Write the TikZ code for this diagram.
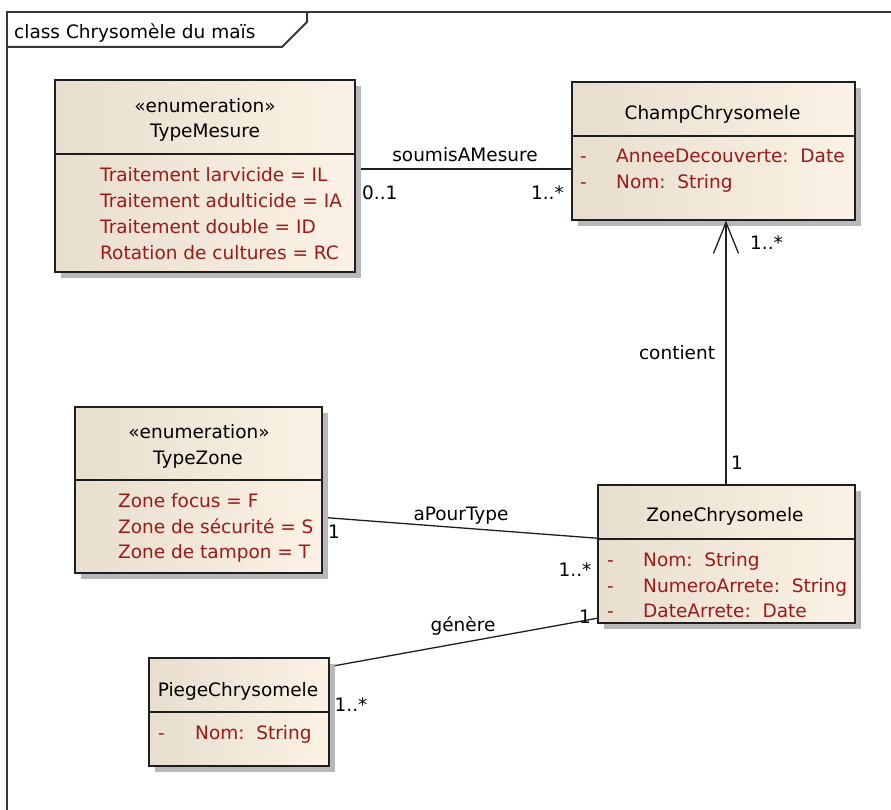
\documentclass[tikz,border=0pt]{standalone}
\usepackage{fontspec}
\setmainfont{DejaVu Sans}
\usetikzlibrary{shadows,arrows.meta,calc}
\definecolor{hdl}{RGB}{232,222,206}
\definecolor{hdr}{RGB}{251,242,229}
\definecolor{attr}{RGB}{155,25,25}
\definecolor{edgec}{RGB}{30,30,30}
\definecolor{framec}{RGB}{55,55,55}
\begin{document}
\begin{tikzpicture}[x=1pt,y=-1pt,
  every node/.style={font=\fontsize{18.5pt}{22pt}\selectfont, inner sep=0pt},
  classbox/.style={draw=edgec, line width=1.4pt, left color=hdl, right color=hdr,
    drop shadow={shadow xshift=6pt, shadow yshift=-6pt, fill=black!28, opacity=1}},
  divider/.style={draw=edgec, line width=1.4pt},
  txt/.style={text height=13.5pt, text depth=0pt},
  attrtxt/.style={txt, text=attr, anchor=west},
  lbl/.style={txt, text=black},
  conn/.style={draw=edgec, line width=1.3pt},
  conlbl/.style={txt, fill=white, inner sep=2pt},
  framestyle/.style={draw=framec, line width=2pt}
]
\useasboundingbox (0,0) rectangle (891,810);

% frame
\draw[framestyle] (7,810) -- (7,12) -- (891,12);
\draw[framestyle] (7,47) -- (282,47) -- (307,22) -- (307,12);
\node[lbl, anchor=west] (title) at (14,32) {class Chrysomèle du maïs};

% connectors first (ends hidden under the boxes)
\draw[conn] (205,169) -- (713,169);
\draw[conn] (199,508) -- (726,548);
\draw[conn] (239,683) -- (726,595);

% class boxes
\node[classbox, minimum width=300pt, minimum height=192pt] (tm) at (205,176) {};
\node[classbox, minimum width=283pt, minimum height=138pt] (cc) at (713.5,151) {};
\node[classbox, minimum width=247pt, minimum height=166pt] (tz) at (198.5,490) {};
\node[classbox, minimum width=257pt, minimum height=138pt] (zc) at (726.5,554) {};
\node[classbox, minimum width=180pt, minimum height=108pt] (pc) at (239,712) {};

% contient (navigable association with open arrow)
\draw[conn, -{Straight Barb[length=31pt, width=25pt]}] (zc.north -| 726,0) -- (cc.south -| 726,0);

% dividers
\draw[divider] (tm.west |- 0,154) -- (tm.east |- 0,154);
\draw[divider] (cc.west |- 0,136) -- (cc.east |- 0,136);
\draw[divider] (tz.west |- 0,480) -- (tz.east |- 0,480);
\draw[divider] (zc.west |- 0,539) -- (zc.east |- 0,539);
\draw[divider] (pc.west |- 0,712) -- (pc.east |- 0,712);

% TypeMesure
\node[lbl] (tm-st) at (205,106) {«enumeration»};
\node[lbl] (tm-nm) at (205,131) {TypeMesure};
\node[attrtxt] (tm-a1) at (100,175) {Traitement larvicide = IL};
\node[attrtxt] (tm-a2) at (100,201) {Traitement adulticide = IA};
\node[attrtxt] (tm-a3) at (100,227) {Traitement double = ID};
\node[attrtxt] (tm-a4) at (100,253) {Rotation de cultures = RC};

% ChampChrysomele
\node[lbl] (cc-nm) at (712.5,113) {ChampChrysomele};
\node[attrtxt] (cc-d1) at (580,156) {-};
\node[attrtxt] (cc-a1) at (616,156) {AnneeDecouverte:\ \ Date};
\node[attrtxt] (cc-d2) at (580,182) {-};
\node[attrtxt] (cc-a2) at (616,182) {Nom:\ \ String};

% TypeZone
\node[lbl] (tz-st) at (199,432) {«enumeration»};
\node[lbl] (tz-nm) at (198,458) {TypeZone};
\node[attrtxt] (tz-a1) at (118,501) {Zone focus = F};
\node[attrtxt] (tz-a2) at (118,527) {Zone de sécurité = S};
\node[attrtxt] (tz-a3) at (118,552) {Zone de tampon = T};

% ZoneChrysomele
\node[lbl] (zc-nm) at (725,515) {ZoneChrysomele};
\node[attrtxt] (zc-d1) at (607,560) {-};
\node[attrtxt] (zc-a1) at (643,560) {Nom:\ \ String};
\node[attrtxt] (zc-d2) at (607,586) {-};
\node[attrtxt] (zc-a2) at (643,586) {NumeroArrete:\ \ String};
\node[attrtxt] (zc-d3) at (607,611) {-};
\node[attrtxt] (zc-a3) at (643,611) {DateArrete:\ \ Date};

% PiegeChrysomele
\node[lbl] (pc-nm) at (238,690) {PiegeChrysomele};
\node[attrtxt] (pc-d1) at (158,733) {-};
\node[attrtxt] (pc-a1) at (195,733) {Nom:\ \ String};

% connector labels
\node[lbl] (l-soumis) at (465,155) {soumisAMesure};
\node[lbl, anchor=west] (m-01) at (362,193) {0..1};
\node[lbl, anchor=east] (m-1s-a) at (564,193) {1..*};
\node[lbl, anchor=west] (m-1s-b) at (750,243) {1..*};
\node[lbl] (l-contient) at (677,353) {contient};
\node[lbl] (m-1-a) at (737,463) {1};
\node[conlbl] (l-apour) at (461,514) {aPourType};
\node[lbl] (m-1-b) at (334,532) {1};
\node[lbl] (m-1s-c) at (575,570) {1..*};
\node[conlbl] (l-genere) at (463,625) {génère};
\node[lbl] (m-1-c) at (585,617) {1};
\node[lbl] (m-1s-d) at (351,705) {1..*};
\end{tikzpicture}
\end{document}
